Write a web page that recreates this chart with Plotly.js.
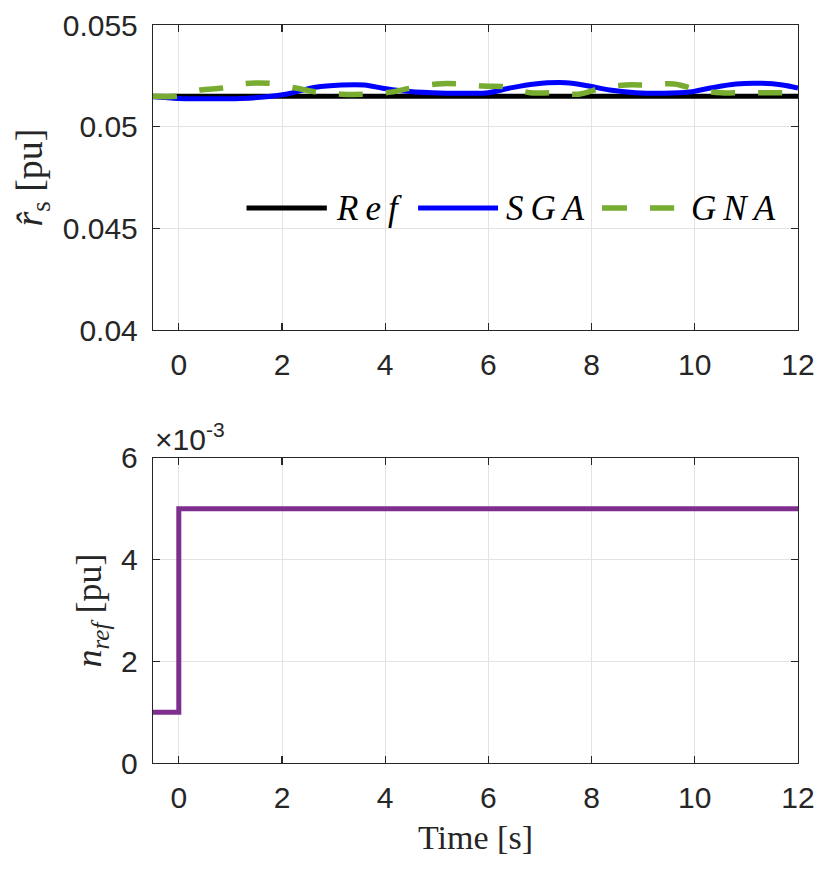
<!DOCTYPE html>
<html>
<head>
<meta charset="utf-8">
<script src="https://cdn.plot.ly/plotly-3.0.1.min.js"></script>
<style>
  html, body { margin: 0; padding: 0; background: #fff; }
  #tester { width: 830px; height: 873px; }
</style>
</head>
<body>
<div id="tester"></div>
<script>
// ----------------------- Data ------------------------------------------------
var xTicks = [0, 2, 4, 6, 8, 10, 12];

var tRef = [-0.5, 12];
var refVals = [0.0515, 0.0515];

var tSga = [-0.5, 0, 0.6, 1.2, 1.7, 2.1, 2.65, 3.15, 3.6, 3.95, 4.3, 4.9, 5.6,
            6.0, 6.4, 6.9, 7.5, 7.95, 8.35, 8.85, 9.4, 9.9, 10.3, 10.8, 11.3,
            11.7, 12];
var sgaVals = [0.05147, 0.05139, 0.05137, 0.05139, 0.05147, 0.05161, 0.05194,
               0.05205, 0.05205, 0.05189, 0.05177, 0.05167, 0.05164, 0.05167,
               0.05189, 0.05210, 0.05216, 0.05200, 0.05180, 0.05167, 0.05164,
               0.05170, 0.05190, 0.05210, 0.05213, 0.05205, 0.05190];

var tGna = [-0.5, -0.06, 0.42, 0.84, 1.3, 1.77, 2.26, 2.68, 3.16, 3.61, 4.1,
            4.5, 5.0, 5.45, 5.9, 6.36, 6.81, 7.27, 7.75, 8.2, 8.66, 9.12, 9.6,
            10.06, 10.51, 10.97, 11.42, 11.88, 12];
var gnaVals = [0.0515, 0.0515, 0.0518, 0.0519, 0.05212, 0.05213, 0.0519,
               0.0517, 0.0516, 0.0516, 0.0517, 0.0519, 0.0521, 0.0521, 0.0520,
               0.05195, 0.05167, 0.05167, 0.0516, 0.0519, 0.05205, 0.05205,
               0.0521, 0.0518, 0.05167, 0.05167, 0.05167, 0.05167, 0.0517];

var tNref = [-0.5, 0, 12];
var nrefVals = [0.001, 0.005, 0.005];

var rsTicks = [0.04, 0.045, 0.05, 0.055];
var rsTickText = ["0.04", "0.045", "0.05", "0.055"];
var nrefTicks = [0, 2, 4, 6];
var nrefScale = 1e-3;
// =============================================================================


// ----------------------------- Styling ---------------------------------------
var ink = "#262626";
var sans = "Liberation Sans, Arial, sans-serif";
var serif = "Liberation Serif, Times New Roman, serif";
var tickFont = { family: sans, size: 30, color: ink };

function axisBase() {
  return {
    showline: true,
    linecolor: ink,
    linewidth: 1.2,
    mirror: "ticks",
    ticks: "inside",
    ticklen: 7,
    tickwidth: 1.2,
    tickcolor: ink,
    showgrid: true,
    gridcolor: "#e3e3e3",
    gridwidth: 1,
    zeroline: false,
    tickfont: tickFont
  };
}
// =============================================================================


// ----------------------------- Traces ----------------------------------------
function lineTrace(x, y, color, width, dash, xa, ya, shape) {
  return {
    x: x,
    y: y,
    xaxis: xa,
    yaxis: ya,
    mode: "lines",
    line: { color: color, width: width, dash: dash, shape: shape },
    showlegend: false,
    hoverinfo: "none"
  };
}

var data = [
  lineTrace(tRef, refVals, "#000000", 5, "solid", "x", "y", "linear"),
  lineTrace(tSga, sgaVals, "#0000ff", 5, "solid", "x", "y", "spline"),
  lineTrace(tGna, gnaVals, "#77ac30", 5.5, "24px,23px", "x", "y", "spline"),
  lineTrace(tNref, nrefVals.map(function (v) { return v / nrefScale; }),
            "#7e2f8e", 5, "solid", "x2", "y2", "hv")
];
// =============================================================================


// ----------------------------- Layout ----------------------------------------
var xaxis = axisBase();
xaxis.range = [-0.5, 12];
xaxis.tickvals = xTicks;
xaxis.anchor = "y";
xaxis.ticklabelstandoff = 8;

var yaxis = axisBase();
yaxis.range = [0.04, 0.055];
yaxis.tickvals = rsTicks;
yaxis.ticktext = rsTickText;
yaxis.domain = [0.5867, 1];
yaxis.anchor = "x";
yaxis.ticklabelstandoff = 8;
yaxis.title = {
  text: "<i>r\u0302</i><sub>s</sub> [pu]",
  font: { family: serif, size: 38, color: ink },
  standoff: 8
};

var xaxis2 = axisBase();
xaxis2.range = [-0.5, 12];
xaxis2.tickvals = xTicks;
xaxis2.anchor = "y2";
xaxis2.ticklabelstandoff = 8;
xaxis2.title = {
  text: "Time [s]",
  font: { family: serif, size: 34, color: ink },
  standoff: 12
};

var yaxis2 = axisBase();
yaxis2.range = [0, 6];
yaxis2.tickvals = nrefTicks;
yaxis2.domain = [0, 0.4133];
yaxis2.anchor = "x2";
yaxis2.ticklabelstandoff = 8;
yaxis2.title = {
  text: "<i>n<sub>ref</sub></i> [pu]",
  font: { family: serif, size: 36, color: ink },
  standoff: 8
};

// legend drawn by hand in the top panel (MATLAB style, no box)
var legY = 0.752;
var legendShapes = [
  { type: "line", xref: "paper", yref: "paper", x0: 0.145, x1: 0.2695,
    y0: legY, y1: legY, line: { color: "#000000", width: 5 } },
  { type: "line", xref: "paper", yref: "paper", x0: 0.411, x1: 0.535,
    y0: legY, y1: legY, line: { color: "#0000ff", width: 5 } },
  { type: "line", xref: "paper", yref: "paper", x0: 0.696, x1: 0.808,
    y0: legY, y1: legY, line: { color: "#77ac30", width: 5.5, dash: "25px,23px" } }
];

function legendText(txt, x) {
  return {
    xref: "paper", yref: "paper", x: x, y: legY,
    xanchor: "left", yanchor: "middle", showarrow: false,
    text: "<i>" + txt + "</i>",
    font: { family: serif, size: 35, color: "#000000" }
  };
}

var annotations = [
  legendText("R\u2009e\u2009f", 0.2806),
  legendText("S\u2009G\u2009A", 0.544),
  legendText("G\u2009N\u2009A", 0.831),
  { xref: "paper", yref: "paper", x: 0, y: 0.4133, xanchor: "left",
    yanchor: "bottom", showarrow: false, yshift: 0,
    text: "\u00d710<sup>-3</sup>",
    font: { family: sans, size: 30, color: ink } }
];

var layout = {
  width: 830,
  height: 873,
  margin: { l: 153, r: 32, t: 25, b: 110 },
  paper_bgcolor: "#ffffff",
  plot_bgcolor: "#ffffff",
  showlegend: false,
  xaxis: xaxis,
  yaxis: yaxis,
  xaxis2: xaxis2,
  yaxis2: yaxis2,
  shapes: legendShapes,
  annotations: annotations
};
// =============================================================================

Plotly.newPlot("tester", data, layout, { staticPlot: true });
</script>
</body>
</html>
